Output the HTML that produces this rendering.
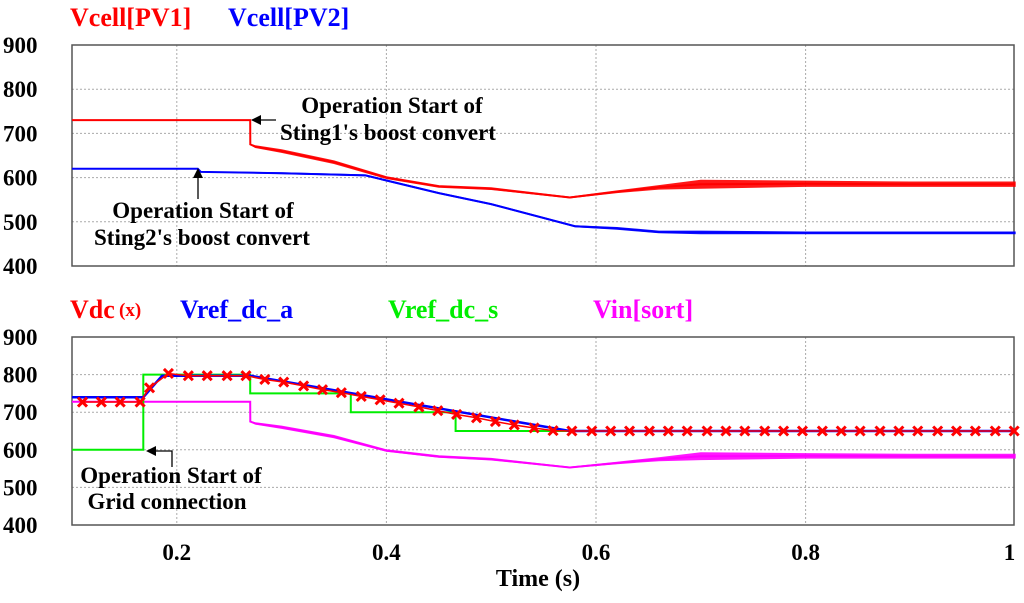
<!DOCTYPE html>
<html><head><meta charset="utf-8"><style>
body{margin:0;background:#fff;}
svg{display:block;font-family:"Liberation Serif",serif;font-weight:bold;}
</style></head><body>
<svg id="chart" width="1024" height="603" viewBox="0 0 1024 603" xmlns="http://www.w3.org/2000/svg"></svg>
<script>
// ---- data ----
const xTicks = [0.2, 0.4, 0.6, 0.8, 1];
const xTickLabels = ["0.2", "0.4", "0.6", "0.8", "1"];
const yTicks = [400, 500, 600, 700, 800, 900];
const pv1T = [0.1, 0.27, 0.2701, 0.275, 0.3, 0.35, 0.4, 0.45, 0.5, 0.575, 0.62, 0.66, 0.7, 0.8, 0.9, 1.0];
const pv1V = [730, 730, 675, 670, 660, 635, 600, 580, 575, 555, 568, 578, 585, 586, 585, 585];
const pv1N = [0, 0, 0, 2, 3, 3, 2, 2, 2, 1, 2, 4, 9, 6, 5, 5];
const pv2T = [0.1, 0.22, 0.223, 0.3, 0.38, 0.45, 0.5, 0.58, 0.62, 0.66, 0.7, 0.8, 1.0];
const pv2V = [620, 620, 613, 610, 605, 565, 540, 490, 485, 477, 476, 475, 475];
const pv2N = [0, 0, 0, 1, 1, 1, 1, 1, 2, 2, 3, 2, 2];
const vdcT = [0.11, 0.128, 0.146, 0.165, 0.174, 0.192, 0.211, 0.229, 0.248, 0.266, 0.284, 0.302, 0.321, 0.339, 0.357, 0.376, 0.394, 0.412, 0.431, 0.449, 0.467, 0.486, 0.504, 0.522, 0.541, 0.559, 0.577, 0.596, 0.614, 0.632, 0.651, 0.669, 0.687, 0.706, 0.724, 0.742, 0.761, 0.779, 0.797, 0.816, 0.834, 0.852, 0.871, 0.889, 0.907, 0.926, 0.944, 0.962, 0.981, 0.999];
const vdcV = [727, 727, 727, 727, 765, 803, 797, 797, 797, 797, 787, 780, 770, 760, 752, 742, 733, 724, 714, 704, 694, 685, 675, 666, 658, 651, 650, 650, 650, 650, 650, 650, 650, 650, 650, 650, 650, 650, 650, 650, 650, 650, 650, 650, 650, 650, 650, 650, 650, 650];
const vrefAT = [0.1, 0.168, 0.186, 0.27, 0.575, 1.0];
const vrefAV = [740, 740, 797, 797, 650, 650];
const vrefST = [0.1, 0.168, 0.168, 0.27, 0.27, 0.366, 0.366, 0.466, 0.466, 1.0];
const vrefSV = [600, 600, 800, 800, 750, 750, 700, 700, 650, 650];
const vinT = [0.1, 0.27, 0.2701, 0.275, 0.3, 0.35, 0.4, 0.45, 0.5, 0.575, 0.62, 0.66, 0.7, 0.8, 0.9, 1.0];
const vinV = [728, 728, 675, 670, 660, 635, 598, 582, 575, 553, 565, 575, 583, 584, 583, 583];
const vinN = [0, 0, 0, 2, 3, 3, 2, 2, 2, 1, 2, 4, 9, 6, 5, 5];

const svg = document.getElementById('chart');
const NS = 'http://www.w3.org/2000/svg';
function mk(tag, attrs, parent){const e=document.createElementNS(NS,tag);for(const k in attrs)e.setAttribute(k,attrs[k]);(parent||svg).appendChild(e);return e;}
const X0 = 72, X1 = 1014;
function xs(t){return X0 + (t - 0.1) * 1048;}
const topP = {y0:45, y1:266};
const botP = {y0:337, y1:525};
function ys(p, v){return p.y1 - (v - 400) / 500 * (p.y1 - p.y0);}

function panel(p, name){
  const g = mk('g', {});
  
  
  xTicks.forEach(t => { if (t < 1) mk('line',{x1:xs(t),x2:xs(t),y1:p.y0,y2:p.y1,stroke:'#aaa','stroke-dasharray':'2,2','stroke-width':1},g); });
  yTicks.forEach(v => {
    if (v > 400 && v < 900) mk('line',{x1:X0,x2:X1,y1:ys(p,v),y2:ys(p,v),stroke:'#aaa','stroke-dasharray':'2,2','stroke-width':1},g);
    const tx = mk('text',{x:3,y:ys(p,v)+8,'font-size':23,fill:'#000'},g);
    tx.textContent = v;
    
    
  });
  const r = mk('rect',{x:X0,y:p.y0,width:X1-X0,height:p.y1-p.y0,fill:'none',stroke:'#555','stroke-width':1.5},g);
  
  
  return g;
}
panel(topP, 'top-panel');
panel(botP, 'bottom-panel');

function line(p, T, V, color, name, w){
  const d = T.map((t,i)=>(i?'L':'M')+xs(t).toFixed(1)+','+ys(p,V[i]).toFixed(1)).join('');
  const e = mk('path',{d:d,fill:'none',stroke:color,'stroke-width':w||2});
  
  
}
function band(p, T, V, N, color, name){
  const up = T.map((t,i)=>xs(t).toFixed(1)+','+ys(p,V[i]+N[i]).toFixed(1));
  const dn = T.map((t,i)=>xs(t).toFixed(1)+','+ys(p,V[i]-N[i]).toFixed(1)).reverse();
  const e = mk('polygon',{points:up.concat(dn).join(' '),fill:color,stroke:color,'stroke-width':1,opacity:0.9});
  
  
}
band(topP, pv2T, pv2V, pv2N, '#0000ff', 'vcell-pv2-noise');
line(topP, pv2T, pv2V, '#0000ff', 'vcell-pv2-line');
band(topP, pv1T, pv1V, pv1N, '#ff0000', 'vcell-pv1-noise');
line(topP, pv1T, pv1V, '#ff0000', 'vcell-pv1-line');

band(botP, vinT, vinV, vinN, '#ff00ff', 'vin-sort-noise');
line(botP, vinT, vinV, '#ff00ff', 'vin-sort-line');
line(botP, vrefST, vrefSV, '#00ee00', 'vref-dc-s-line');
line(botP, vrefAT, vrefAV, '#0000ff', 'vref-dc-a-line', 2.5);
line(botP, vdcT, vdcV, '#ff0000', 'vdc-line', 1.5);
vdcT.forEach((t,i)=>{
  const cx = xs(t), cy = ys(botP, vdcV[i]), s = 4.5;
  const m = mk('path',{d:`M${cx-s},${cy-s}L${cx+s},${cy+s}M${cx-s},${cy+s}L${cx+s},${cy-s}`,stroke:'#ff0000','stroke-width':3});
  
  
});

function txt(x,y,s,color,size,name,anchor){
  const e = mk('text',{x:x,y:y,fill:color,'font-size':size,'text-anchor':anchor||'start'});
  e.textContent = s;
  
  
  return e;
}
xTicks.forEach((t,i)=>txt(xs(t), 560, xTickLabels[i], '#000', 23, 'x-tick-label', t===1?'end':'middle'));
txt(538, 586, 'Time (s)', '#000', 24, 'x-axis-title', 'middle');

txt(70, 26, 'Vcell[PV1]', '#ff0000', 26, 'legend-vcell-pv1');
txt(228, 26, 'Vcell[PV2]', '#0000ff', 26, 'legend-vcell-pv2');
txt(70, 318, 'Vdc', '#ff0000', 26, 'legend-vdc');
txt(119, 316, '(x)', '#ff0000', 19, 'legend-vdc-marker');
txt(180, 318, 'Vref_dc_a', '#0000ff', 26, 'legend-vref-dc-a');
txt(388, 318, 'Vref_dc_s', '#00ee00', 26, 'legend-vref-dc-s');
txt(593, 318, 'Vin[sort]', '#ff00ff', 26, 'legend-vin-sort');

function arrowHead(x,y,dir){
  const pts = dir==='left' ? `${x},${y} ${x+10},${y-5} ${x+10},${y+5}` : `${x},${y} ${x-5},${y+10} ${x+5},${y+10}`;
  const a = mk('polygon',{points:pts,fill:'#000'});
  
  
}
let l;
l = mk('line',{x1:252,y1:120,x2:276,y2:120,stroke:'#000','stroke-width':1.3});


arrowHead(251,120,'left');
txt(392, 113, 'Operation Start of', '#000', 23, 'annotation-pv1-line1', 'middle');
txt(388, 140, "Sting1's boost convert", '#000', 23, 'annotation-pv1-line2', 'middle');
l = mk('line',{x1:198,y1:170,x2:198,y2:199,stroke:'#000','stroke-width':1.3});


arrowHead(198,168,'up');
txt(203, 218, 'Operation Start of', '#000', 23, 'annotation-pv2-line1', 'middle');
txt(202, 245, "Sting2's boost convert", '#000', 23, 'annotation-pv2-line2', 'middle');
l = mk('path',{d:'M148,451L172,451L172,467',fill:'none',stroke:'#000','stroke-width':1.3});


arrowHead(146,451,'left');
txt(171, 483, 'Operation Start of', '#000', 23, 'annotation-grid-line1', 'middle');
txt(167, 509, 'Grid connection', '#000', 23, 'annotation-grid-line2', 'middle');
</script>
</body></html>
